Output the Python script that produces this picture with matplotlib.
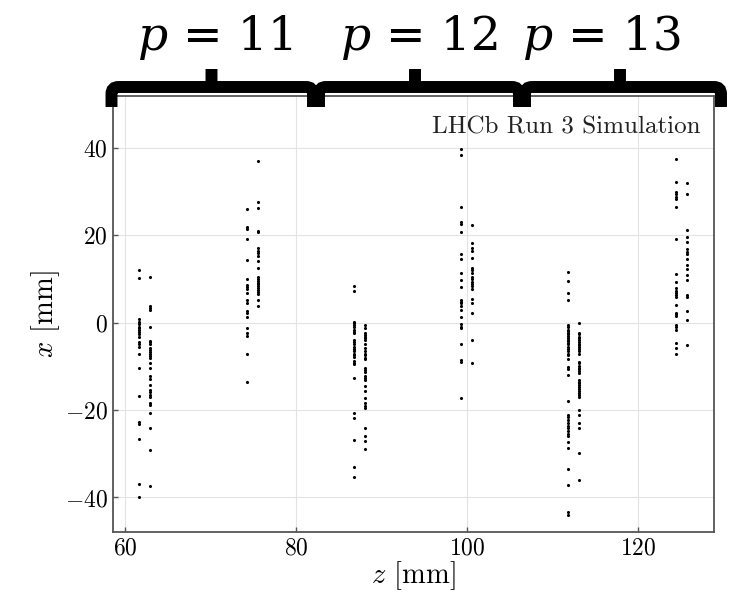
import numpy as np
import matplotlib
matplotlib.use("Agg")
import matplotlib.pyplot as plt
from matplotlib.path import Path
from matplotlib.patches import PathPatch

plt.rcParams.update({
    "font.family": "serif",
    "font.serif": ["cmr10"],
    "mathtext.fontset": "cm",
    "axes.formatter.use_mathtext": True,
})

# z position of each detector plane [mm] and the hit x values [mm] on it
plane_z = [61.65, 62.94, 74.2, 75.55, 86.73, 88.05,
           99.34, 100.63, 111.83, 113.12, 124.42, 125.74]
hits_x = [
    [12.0, 10.1, 0.7, 0.2, -0.4, -1.0, -1.3, -1.7, -2.1, -2.6, -3.2, -4.4, -4.9,
     -5.5, -7.1, -10.5, -16.7, -22.7, -23.2, -26.7, -36.9, -39.9],
    [10.5, 3.8, 3.4, 2.9, -1.0, -4.2, -4.5, -4.9, -5.9, -6.3, -6.7, -7.1, -7.7,
     -8.2, -9.2, -10.5, -12.2, -12.8, -14.3, -15.4, -16.0, -16.6, -17.1, -18.3,
     -18.9, -20.6, -24.1, -29.2, -37.4],
    [26.0, 21.8, 21.3, 19.2, 14.3, 9.9, 8.6, 8.2, 7.7, 6.7, 5.1, 4.4, 2.6, 2.1,
     1.3, -1.2, -2.5, -3.0, -7.1, -13.5],
    [37.0, 27.5, 26.1, 21.0, 20.6, 17.0, 16.4, 15.8, 15.2, 14.1, 12.4, 10.3, 9.9,
     9.5, 9.1, 8.7, 8.4, 8.0, 7.4, 6.9, 6.5, 5.1, 3.8],
    [8.4, 7.3, 0.2, -0.2, -0.6, -1.1, -1.6, -2.1, -2.5, -4.0, -4.4, -4.8, -5.7,
     -6.1, -6.5, -7.1, -7.4, -7.8, -8.8, -9.2, -9.5, -12.7, -20.6, -21.9, -26.9,
     -33.0, -35.4],
    [-0.6, -1.3, -2.5, -2.9, -3.2, -3.6, -4.0, -4.9, -5.9, -6.5, -7.1, -7.4, -8.0,
     -8.4, -10.3, -10.9, -11.3, -12.2, -12.6, -13.2, -14.5, -15.6, -17.2, -18.5,
     -19.1, -19.6, -24.1, -26.0, -27.1, -29.0],
    [39.7, 38.3, 26.5, 22.9, 22.5, 20.8, 15.7, 14.5, 11.4, 9.7, 8.1, 5.1, 4.8,
     4.4, 3.8, 2.9, 1.3, -0.4, -1.0, -1.3, -4.9, -8.6, -9.0, -17.3],
    [22.4, 18.1, 17.0, 16.4, 14.8, 12.4, 11.9, 11.4, 10.3, 9.9, 9.3, 8.8, 8.4,
     7.6, 5.4, 4.4, 2.2, -4.0, -9.2],
    [11.6, 9.5, 6.7, 5.1, -0.6, -1.1, -1.6, -1.9, -2.3, -2.7, -3.1, -3.5, -3.9,
     -4.2, -4.6, -5.0, -5.5, -6.1, -6.5, -7.1, -7.4, -8.4, -10.1, -10.6, -11.9,
     -18.0, -21.2, -21.7, -22.3, -22.9, -23.6, -24.2, -24.8, -25.4, -25.9, -27.3,
     -28.8, -33.5, -37.2, -43.3, -43.9],
    [0.0, -2.3, -2.7, -3.2, -3.6, -4.0, -4.4, -4.8, -5.1, -5.7, -6.1, -6.5, -7.1,
     -9.0, -9.3, -9.9, -10.3, -10.7, -11.1, -11.6, -13.2, -13.5, -13.9, -14.3,
     -14.7, -15.2, -15.6, -16.1, -16.6, -17.1, -20.0, -21.2, -22.9, -24.1, -29.9,
     -35.9],
    [37.4, 32.1, 29.9, 29.4, 28.8, 28.2, 26.4, 19.0, 11.1, 9.3, 7.8, 7.3, 6.8,
     6.3, 5.9, 4.0, 2.2, 1.9, 1.5, -0.6, -1.0, -1.6, -4.6, -5.9, -7.1],
    [32.0, 29.4, 21.2, 19.6, 18.5, 16.7, 16.2, 15.7, 14.5, 13.2, 12.2, 10.9, 9.7,
     6.3, 5.8, 2.6, 0.6, -5.1],
]

# particle groups marked above the plot
group_values = ["11", "12", "13"]

W, H = 730, 594
fig = plt.figure(figsize=(W / 100, H / 100), dpi=100)
ax = fig.add_axes([113.3 / W, 1 - 532 / H, 600.7 / W, 436 / H])

for z, xs in zip(plane_z, hits_x):
    ax.scatter(np.full(len(xs), z), xs, s=5, color="black", linewidths=0, zorder=3)

ax.set_xlim(58.6, 128.9)
ax.set_ylim(-47.9, 51.8)
ax.set_xticks([60, 80, 100, 120])
ax.set_yticks([-40, -20, 0, 20, 40])
ax.grid(True, color="#e3e3e3", lw=0.8)
ax.set_axisbelow(True)
for sp in ax.spines.values():
    sp.set_color("#555555")
    sp.set_linewidth(1.3)
ax.tick_params(direction="in", length=3.5, width=1.0, color="#555555",
               labelsize=17, pad=4)
ax.set_xlabel(r"$z$ [mm]", fontsize=20.5, labelpad=0)
ax.set_ylabel(r"$x$ [mm]", fontsize=20.5, labelpad=2)
ax.text(0.977, 0.915, "LHCb Run 3 Simulation", transform=ax.transAxes,
        ha="right", va="baseline", fontsize=18, color="#222222")

# curly braces over the three groups (pixel coords, y down)
brace_spans = [(111.5, 313.0, 211.5), (319.0, 519.0, 415.0), (525.0, 721.0, 620.0)]
eq_left = [183, 386, 568]


def fig_xy(x, y):
    return (x / W, 1 - y / H)


bar_y, end_y, tip_y, r = 87.0, 107.0, 69.0, 7.0
for (L, R, T), val, ex in zip(brace_spans, group_values, eq_left):
    verts = [fig_xy(L, end_y), fig_xy(L, bar_y + r), fig_xy(L, bar_y), fig_xy(L + r, bar_y),
             fig_xy(R - r, bar_y), fig_xy(R, bar_y), fig_xy(R, bar_y + r), fig_xy(R, end_y),
             fig_xy(T, bar_y), fig_xy(T, tip_y)]
    codes = [Path.MOVETO, Path.LINETO, Path.CURVE3, Path.CURVE3,
             Path.LINETO, Path.CURVE3, Path.CURVE3, Path.LINETO,
             Path.MOVETO, Path.LINETO]
    fig.add_artist(PathPatch(Path(verts, codes), transform=fig.transFigure,
                             facecolor="none", edgecolor="black", lw=8.6,
                             capstyle="butt", joinstyle="miter"))
    fig.text((ex - 15) / W, 1 - 50 / H, "p", ha="right", va="baseline",
             fontsize=34, family="DejaVu Serif", style="italic")
    fig.text(ex / W, 1 - 50 / H, "= " + val, ha="left", va="baseline",
             fontsize=34, family="DejaVu Serif")

fig.savefig("out.png", dpi=100)
